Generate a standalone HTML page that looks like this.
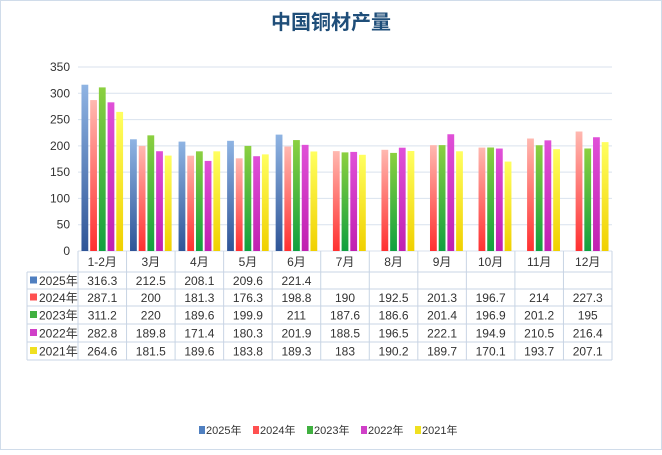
<!DOCTYPE html>
<html><head><meta charset="utf-8"><style>
body{margin:0;background:#fff;font-family:"Liberation Sans","Noto Sans CJK SC",sans-serif;}
svg text{font-family:"Liberation Sans","Noto Sans CJK SC",sans-serif;}
</style></head><body>
<svg id="c" width="662" height="450" xmlns="http://www.w3.org/2000/svg">
<defs>
<linearGradient id="g0" x1="0" y1="1" x2="0" y2="0"><stop offset="0" stop-color="#2f5597"/><stop offset="1" stop-color="#8fb4e3"/></linearGradient>
<linearGradient id="g1" x1="0" y1="1" x2="0" y2="0"><stop offset="0" stop-color="#ff3030"/><stop offset="1" stop-color="#ffb8b0"/></linearGradient>
<linearGradient id="g2" x1="0" y1="1" x2="0" y2="0"><stop offset="0" stop-color="#10a040"/><stop offset="1" stop-color="#8cd040"/></linearGradient>
<linearGradient id="g3" x1="0" y1="1" x2="0" y2="0"><stop offset="0" stop-color="#c020b0"/><stop offset="1" stop-color="#e050d8"/></linearGradient>
<linearGradient id="g4" x1="0" y1="1" x2="0" y2="0"><stop offset="0" stop-color="#f0d000"/><stop offset="1" stop-color="#ffff60"/></linearGradient>
</defs>
<rect x="0.5" y="0.5" width="661" height="449" fill="#fff" stroke="#d0dcea"/>
<text x="331" y="29" text-anchor="middle" font-size="20" font-weight="bold" fill="#1f4e79">中国铜材产量</text>
<g id="grid"></g><g id="bars"></g><g id="table"></g><g id="legend"></g>
</svg>
<script>
const categories=["1-2月","3月","4月","5月","6月","7月","8月","9月","10月","11月","12月"];
const seriesNames=["2025年","2024年","2023年","2022年","2021年"];
const s2025=[316.3,212.5,208.1,209.6,221.4,null,null,null,null,null,null];
const s2024=[287.1,200,181.3,176.3,198.8,190,192.5,201.3,196.7,214,227.3];
const s2023=[311.2,220,189.6,199.9,211,187.6,186.6,201.4,196.9,201.2,195];
const s2022=[282.8,189.8,171.4,180.3,201.9,188.5,196.5,222.1,194.9,210.5,216.4];
const s2021=[264.6,181.5,189.6,183.8,189.3,183,190.2,189.7,170.1,193.7,207.1];
const yTicks=[0,50,100,150,200,250,300,350];
const series=[s2025,s2024,s2023,s2022,s2021];
const legendColors=["#4f7fc0","#ff5050","#40b040","#d040c8","#f0e020"];
const NS="http://www.w3.org/2000/svg";
const L=78,R=612,Y0=251,Y350=67,catW=(R-L)/categories.length;
const y=v=>Y0-(v/350)*(Y0-Y350);
const x=i=>L+i*catW;
function mk(t,a,p,txt){const e=document.createElementNS(NS,t);for(const k in a)e.setAttribute(k,a[k]);if(txt!=null)e.textContent=txt;p.appendChild(e);return e;}
const grid=document.getElementById('grid');
yTicks.forEach(t=>{
 const ln=mk('line',{x1:L,x2:R,y1:y(t),y2:y(t),stroke:'#d9e2ee'},grid);
 
 const tx=mk('text',{x:L-8,y:y(t)+4,'text-anchor':'end','font-size':12,fill:'#333'},grid,t);
 
});
const bars=document.getElementById('bars');
const bw=6.8,gap=1.9;
series.forEach((s,si)=>s.forEach((v,ci)=>{
 if(v==null)return;
 const bx=x(ci)+(catW-(5*bw+4*gap))/2+si*(bw+gap);
 const r=mk('rect',{x:bx,y:y(v),width:bw,height:Y0-y(v),fill:'url(#g'+si+')'},bars);
 
 
}));
const tb=document.getElementById('table');
const rowY=[251,272,289,306,324,342,360];
// outer lines
for(let i=0;i<=categories.length;i++){const l=mk('line',{x1:x(i),x2:x(i),y1:251,y2:360,stroke:'#c8d4e4'},tb);}
const l0=mk('line',{x1:27,x2:27,y1:272,y2:360,stroke:'#c8d4e4'},tb);
for(let r=1;r<rowY.length;r++){const l=mk('line',{x1:r==1?27:27,x2:R,y1:rowY[r],y2:rowY[r],stroke:'#c8d4e4'},tb);}
categories.forEach((c,i)=>{const t=mk('text',{x:x(i)+catW/2,y:266,'text-anchor':'middle','font-size':12,fill:'#333'},tb,c);});
series.forEach((s,si)=>{
 const cy=(rowY[si+1]+rowY[si+2])/2;
 const sw=mk('rect',{x:30,y:cy-4,width:7,height:7,fill:legendColors[si]},tb);
 const lt=mk('text',{x:39,y:cy+4.5,'font-size':12,fill:'#333'},tb,seriesNames[si]);
 s.forEach((v,ci)=>{if(v==null)return;const t=mk('text',{x:x(ci)+catW/2,y:cy+4.5,'text-anchor':'middle','font-size':12,fill:'#333'},tb,String(v));});
});
const lg=document.getElementById('legend');
let lx=199;
seriesNames.forEach((n,i)=>{
 const g=mk('g',{},lg);
 mk('rect',{x:lx,y:426,width:6,height:8,fill:legendColors[i]},g);
 mk('text',{x:lx+7,y:434,'font-size':11,fill:'#333'},g,n);
 lx+=54;
});
</script>
</body></html>
